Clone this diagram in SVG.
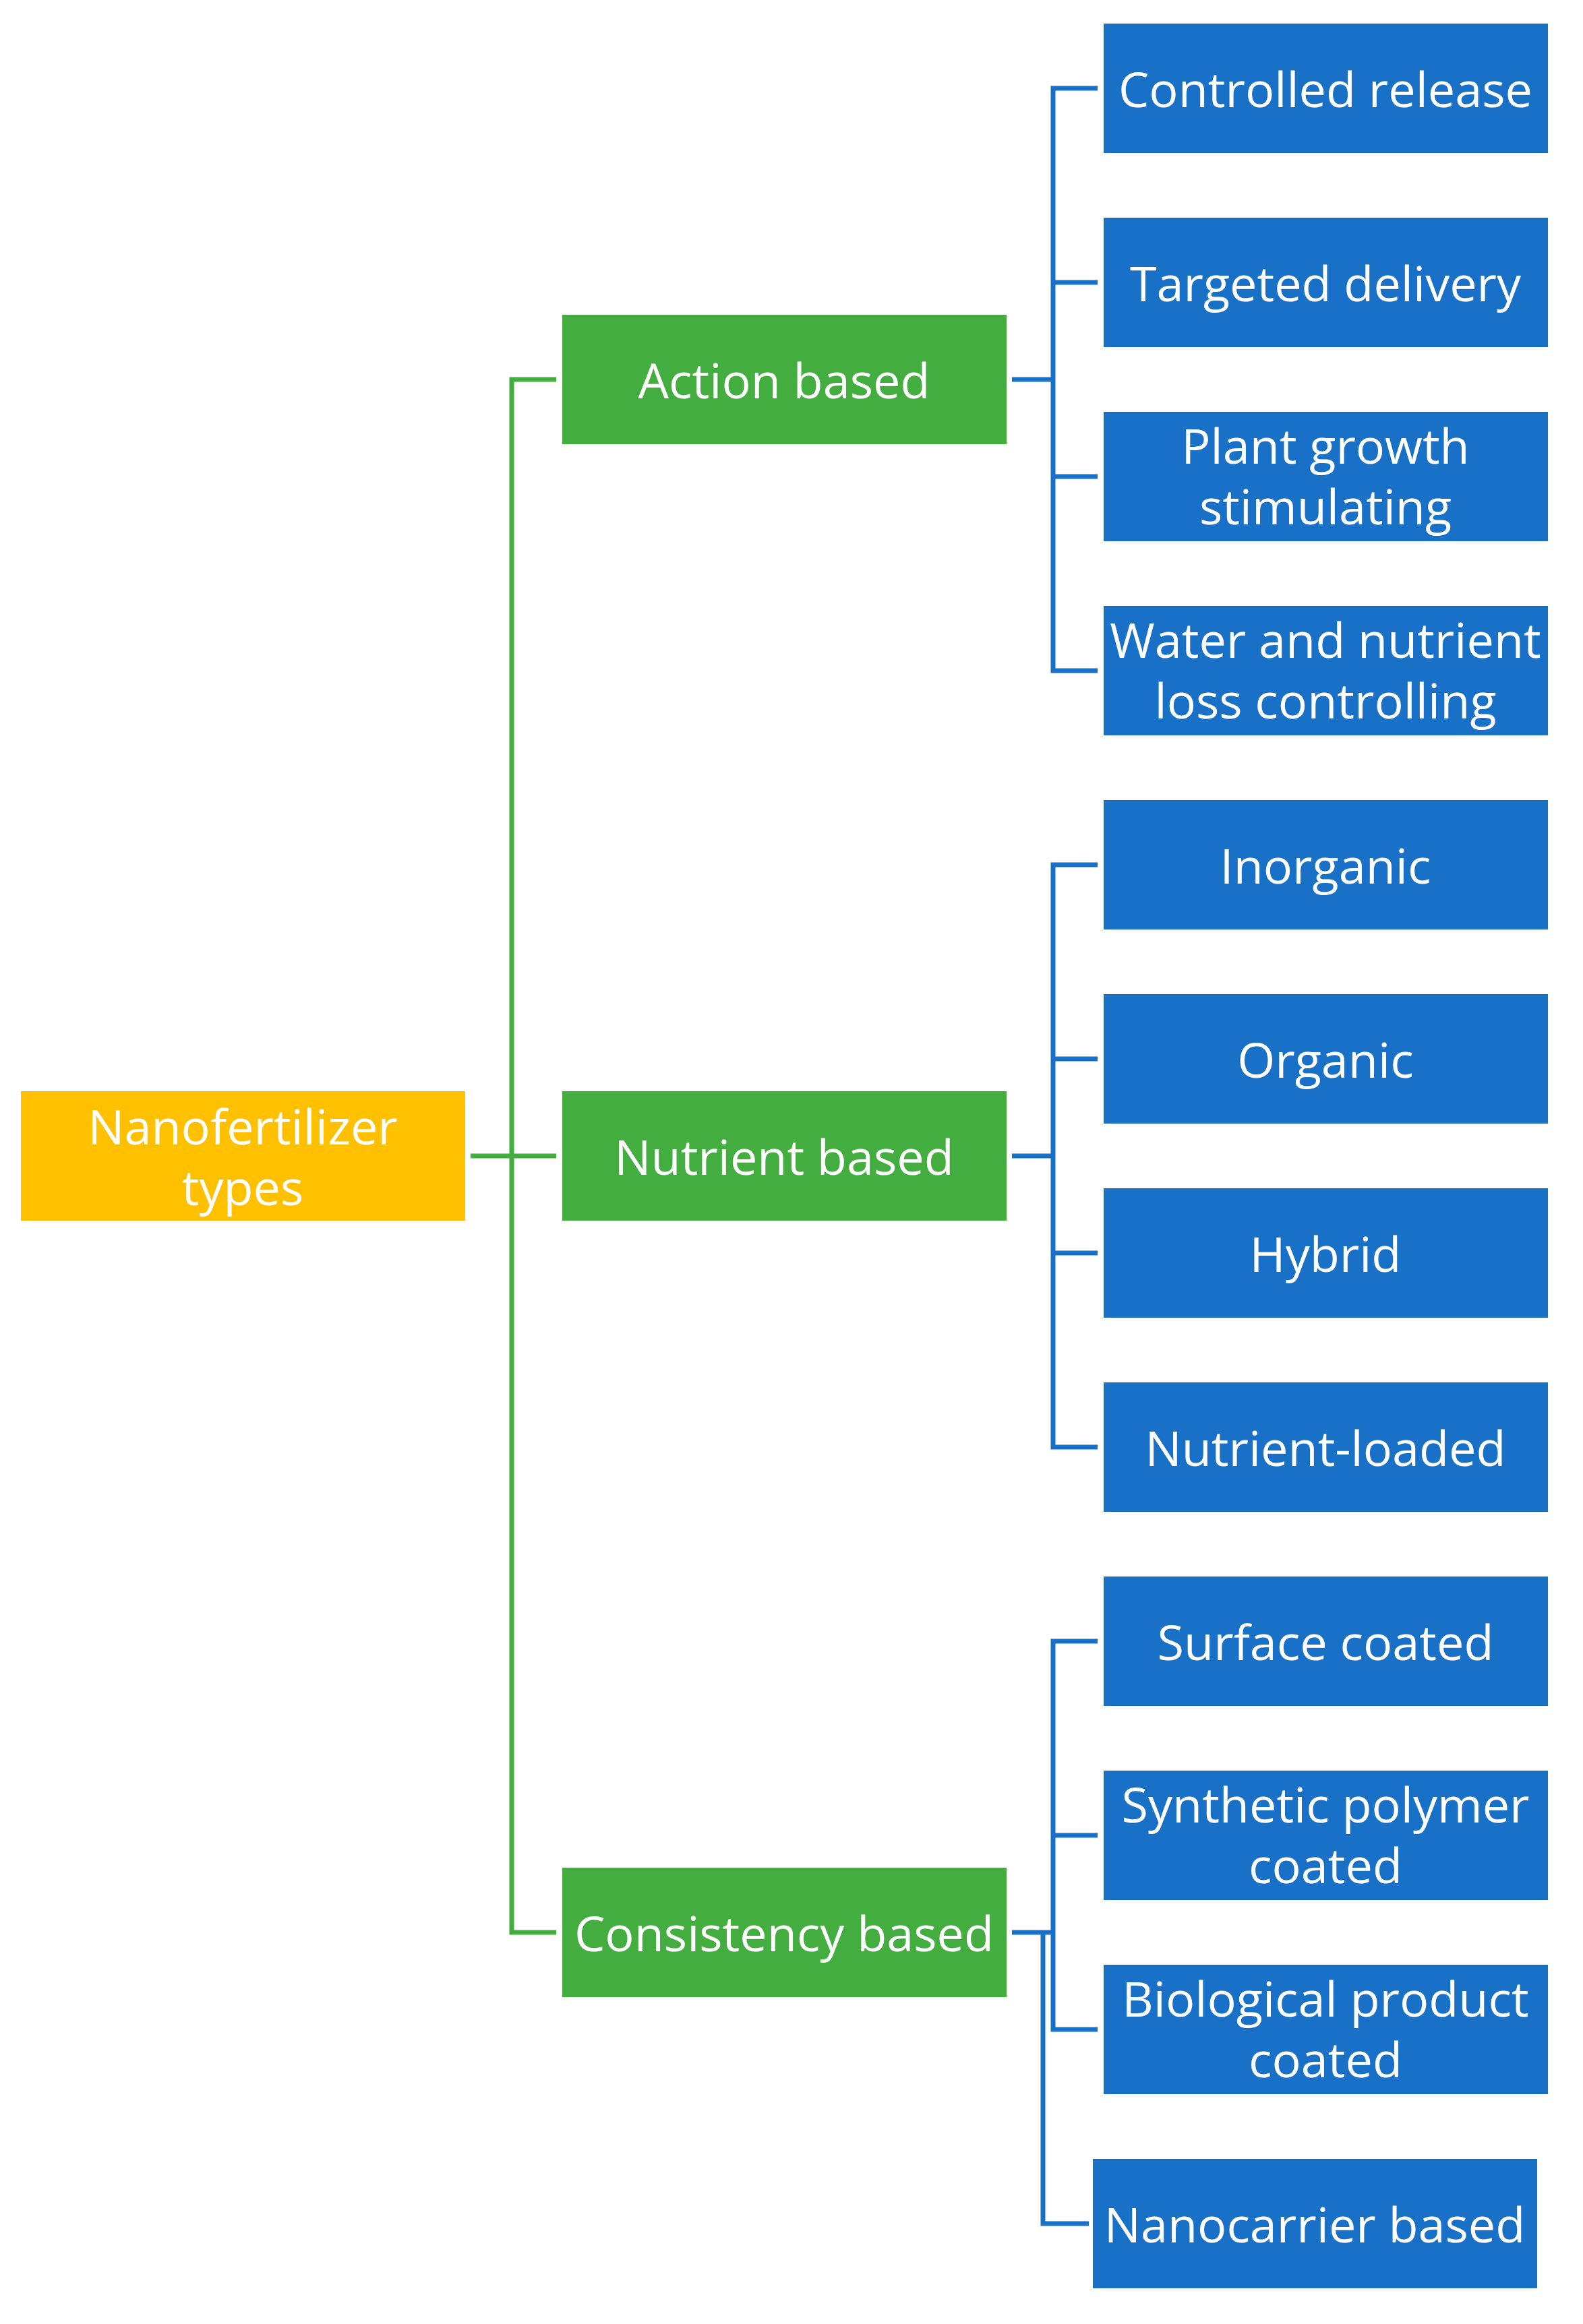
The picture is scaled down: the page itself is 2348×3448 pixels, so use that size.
<svg xmlns="http://www.w3.org/2000/svg" width="2348" height="3448" viewBox="0 0 2348 3448">
<style>
.b{fill:#1971C7}.g{fill:#43AE3F}.o{fill:#FFC000}
text{font-family:"Open Sans","Liberation Sans",sans-serif;font-size:72px;fill:#fff;text-anchor:middle;dominant-baseline:central}
.gl{stroke:#43AE3F;stroke-width:7;fill:none}.bl{stroke:#1971C7;stroke-width:7;fill:none}
</style>
<rect width="2348" height="3448" fill="#fff"/>
<g id="connectors">
<path class="gl" d="M698 1715H759M825 563H759V2867H825M759 1715H825"/>
<path class="bl" d="M1501 563H1562M1628 131H1562V995H1628M1562 419H1628M1562 707H1628"/>
<path class="bl" d="M1501 1715H1562M1628 1283H1562V2147H1628M1562 1571H1628M1562 1859H1628"/>
<path class="bl" d="M1501 2867H1562M1628 2435H1562V3011H1628M1562 2723H1628M1547 2867V3299H1615"/>
</g>
<g id="root"><rect class="o" x="31" y="1619" width="659" height="192"/><text x="360" y="1670">Nanofertilizer</text><text x="360" y="1760">types</text></g>
<g id="action"><rect class="g" x="834" y="467" width="659" height="192"/><text x="1163" y="563">Action based</text></g>
<g id="nutrient"><rect class="g" x="834" y="1619" width="659" height="192"/><text x="1163" y="1715">Nutrient based</text></g>
<g id="consistency"><rect class="g" x="834" y="2771" width="659" height="192"/><text x="1163" y="2867">Consistency based</text></g>
<g id="c1"><rect class="b" x="1637" y="35" width="659" height="192"/><text x="1966" y="131">Controlled release</text></g>
<g id="c2"><rect class="b" x="1637" y="323" width="659" height="192"/><text x="1966" y="419">Targeted delivery</text></g>
<g id="c3"><rect class="b" x="1637" y="611" width="659" height="192"/><text x="1966" y="660">Plant growth</text><text x="1966" y="750">stimulating</text></g>
<g id="c4"><rect class="b" x="1637" y="899" width="659" height="192"/><text x="1966" y="948">Water and nutrient</text><text x="1966" y="1038">loss controlling</text></g>
<g id="c5"><rect class="b" x="1637" y="1187" width="659" height="192"/><text x="1966" y="1283">Inorganic</text></g>
<g id="c6"><rect class="b" x="1637" y="1475" width="659" height="192"/><text x="1966" y="1571">Organic</text></g>
<g id="c7"><rect class="b" x="1637" y="1763" width="659" height="192"/><text x="1966" y="1859">Hybrid</text></g>
<g id="c8"><rect class="b" x="1637" y="2051" width="659" height="192"/><text x="1966" y="2147">Nutrient-loaded</text></g>
<g id="c9"><rect class="b" x="1637" y="2339" width="659" height="192"/><text x="1966" y="2435">Surface coated</text></g>
<g id="c10"><rect class="b" x="1637" y="2627" width="659" height="192"/><text x="1966" y="2676">Synthetic polymer</text><text x="1966" y="2766">coated</text></g>
<g id="c11"><rect class="b" x="1637" y="2915" width="659" height="192"/><text x="1966" y="2964">Biological product</text><text x="1966" y="3054">coated</text></g>
<g id="c12"><rect class="b" x="1621" y="3203" width="659" height="192"/><text x="1950" y="3299">Nanocarrier based</text></g>
</svg>
